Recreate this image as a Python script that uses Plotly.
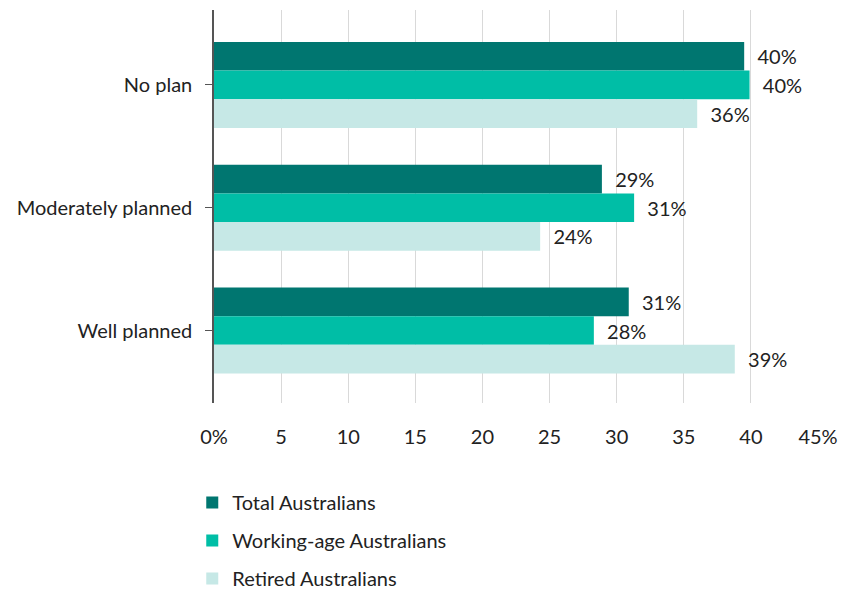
import plotly.graph_objects as go

# Share of Australians by retirement planning status
categories = ["No plan", "Moderately planned", "Well planned"]
total_australians = [39.5, 28.9, 30.9]
working_age_australians = [39.9, 31.3, 28.3]
retired_australians = [36.0, 24.3, 38.8]

series_names = ["Total Australians", "Working-age Australians", "Retired Australians"]
series_values = [total_australians, working_age_australians, retired_australians]
series_colors = ["#007670", "#00BEA6", "#C6E8E6"]

tick_values = [0, 5, 10, 15, 20, 25, 30, 35, 40, 45]
tick_labels = ["0%", "5", "10", "15", "20", "25", "30", "35", "40", "45%"]

FONT = "Lato"
FONT_SIZE = 20
TEXT_COLOR = "#222222"

fig = go.Figure()
for name, vals, color in zip(series_names, series_values, series_colors):
    fig.add_trace(go.Bar(
        y=categories,
        x=vals,
        orientation="h",
        name=name,
        legendgroup=name,
        marker=dict(color=color, line=dict(width=0)),
        texttemplate="\u00a0\u00a0%{x:.0f}%",
        textposition="outside",
        constraintext="none",
        cliponaxis=False,
        textfont=dict(family=FONT, size=FONT_SIZE, color=TEXT_COLOR),
        hoverinfo="skip",
    ))

fig.update_layout(
    width=859,
    height=589,
    margin=dict(l=214, r=41, t=10, b=186, autoexpand=False),
    paper_bgcolor="white",
    plot_bgcolor="white",
    barmode="group",
    bargap=0.3,
    bargroupgap=0,
    font=dict(family=FONT, size=FONT_SIZE, color=TEXT_COLOR),
    showlegend=True,
    legend=dict(
        orientation="v",
        x=-0.036,
        xanchor="left",
        yref="container",
        y=0.18,
        yanchor="top",
        traceorder="grouped",
        tracegroupgap=9,
        itemsizing="constant",
        font=dict(family=FONT, size=FONT_SIZE, color=TEXT_COLOR),
    ),
    xaxis=dict(
        range=[0, 45],
        tickvals=tick_values,
        ticktext=tick_labels,
        showgrid=True,
        gridcolor="#D9D9D9",
        gridwidth=1,
        zeroline=False,
        showline=False,
        ticks="",
        ticklabelstandoff=20,
        tickfont=dict(family=FONT, size=FONT_SIZE, color=TEXT_COLOR),
    ),
    yaxis=dict(
        categoryorder="array",
        categoryarray=categories,
        range=[2.59, -0.61],
        showline=True,
        linecolor="#555555",
        linewidth=1.5,
        ticks="outside",
        ticklen=7,
        tickcolor="#555555",
        tickwidth=1,
        ticklabelstandoff=9,
        showgrid=False,
        tickfont=dict(family=FONT, size=FONT_SIZE, color=TEXT_COLOR),
    ),
)

fig.write_html("out.html")
